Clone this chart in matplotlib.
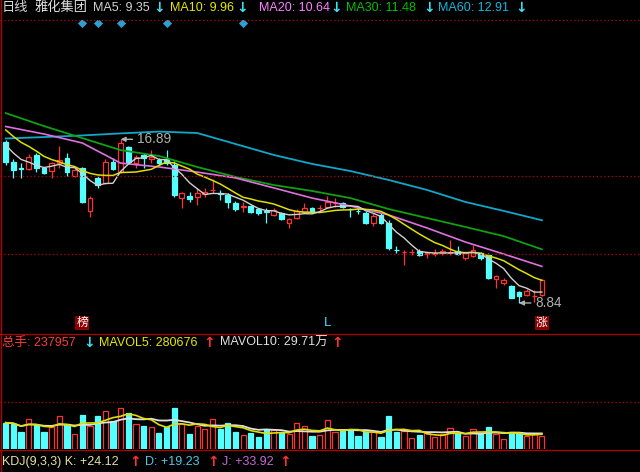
import numpy as np
import pandas as pd
import matplotlib
matplotlib.use('Agg')
import matplotlib.pyplot as plt
from matplotlib.lines import Line2D
from matplotlib.transforms import blended_transform_factory

plt.rcParams['font.family'] = ['Liberation Sans', 'Noto Sans CJK SC', 'DejaVu Sans']

# daily candles, oldest first
opens = [
    16.74, 15.79, 15.49, 15.43, 16.12, 15.46, 15.33, 15.74, 15.96, 15.10,
    15.46, 13.36, 14.97, 14.76, 15.79, 15.27, 16.53, 15.71, 16.12, 15.94,
    15.87, 15.91, 15.63, 13.99, 14.10, 14.07, 14.20, 14.38, 14.25, 14.15,
    13.77, 13.57, 13.62, 13.45, 13.34, 13.17, 13.25, 12.76, 13.00, 13.33,
    13.50, 13.49, 13.58, 13.77, 13.74, 13.45, 13.37, 13.29, 12.76, 13.17,
    12.79, 11.46, 11.35, 11.34, 11.41, 11.27, 11.27, 11.28, 11.32, 11.39,
    11.04, 11.15, 11.31, 11.20, 10.02, 9.81, 9.67, 9.39, 9.23, 9.17, 9.23,
]
closes = [
    15.76, 15.38, 15.42, 16.03, 15.46, 15.22, 15.71, 15.87, 15.30, 15.38,
    13.79, 13.99, 14.64, 15.79, 15.43, 16.69, 15.79, 16.03, 15.96, 16.01,
    15.71, 15.71, 14.15, 14.26, 13.94, 14.23, 14.31, 14.40, 14.22, 13.82,
    13.45, 13.59, 13.33, 13.25, 13.31, 13.39, 12.96, 12.96, 13.36, 13.50,
    13.33, 13.51, 13.82, 13.78, 13.55, 13.44, 13.35, 12.79, 13.12, 12.76,
    11.53, 11.44, 11.36, 11.35, 11.20, 11.29, 11.29, 11.39, 11.34, 11.23,
    11.28, 11.45, 11.04, 10.05, 10.17, 9.97, 9.10, 9.18, 9.44, 9.19, 9.97,
]
highs = [
    16.86, 15.91, 15.71, 16.15, 16.20, 15.54, 15.79, 16.56, 16.20, 15.46,
    15.54, 14.12, 15.13, 15.91, 15.96, 16.89, 16.56, 16.12, 16.20, 16.36,
    15.96, 16.36, 15.84, 14.31, 14.31, 14.48, 14.48, 14.92, 14.40, 14.23,
    13.86, 13.82, 13.66, 13.50, 13.50, 13.51, 13.33, 13.00, 13.45, 13.74,
    13.58, 13.66, 14.10, 13.99, 13.82, 13.50, 13.50, 13.37, 13.28, 13.25,
    12.92, 11.64, 11.45, 11.49, 11.49, 11.36, 11.49, 11.49, 11.94, 11.64,
    11.36, 11.69, 11.36, 11.28, 10.22, 10.05, 9.72, 9.44, 9.51, 9.48, 10.02,
]
lows = [
    15.63, 14.97, 14.97, 15.38, 15.30, 15.17, 14.97, 15.46, 15.09, 15.05,
    13.76, 13.08, 14.48, 14.69, 15.38, 15.22, 15.71, 15.46, 15.46, 15.71,
    15.63, 15.63, 14.07, 13.50, 13.82, 13.66, 14.07, 14.23, 13.91, 13.50,
    13.38, 13.33, 13.25, 13.17, 12.76, 13.12, 12.92, 12.54, 12.96, 13.25,
    13.28, 13.33, 13.50, 13.58, 13.50, 13.06, 13.20, 12.71, 12.64, 12.71,
    11.45, 11.31, 10.72, 11.20, 11.15, 11.04, 11.15, 11.20, 11.20, 11.20,
    10.95, 11.12, 10.95, 10.01, 9.56, 9.72, 9.07, 8.84, 9.18, 8.90, 9.18,
]
volumes = [
    476000, 453000, 315000, 537000, 430000, 315000, 405000, 596000, 453000, 274000,
    614000, 417000, 596000, 691000, 512000, 734000, 644000, 453000, 417000, 394000,
    297000, 405000, 734000, 453000, 269000, 417000, 358000, 537000, 363000, 465000,
    304000, 256000, 286000, 226000, 345000, 345000, 297000, 274000, 465000, 417000,
    238000, 256000, 524000, 315000, 333000, 345000, 238000, 315000, 315000, 226000,
    596000, 315000, 333000, 197000, 256000, 286000, 226000, 274000, 376000, 286000,
    238000, 358000, 286000, 394000, 274000, 179000, 315000, 286000, 238000, 274000, 237957,
]
# closes before the window, needed for MA5 / MA10 at the left edge
prior_closes = [18.6, 18.3, 18.0, 17.8, 17.8, 17.3, 17.0, 16.7, 16.25]

# long averages every 5 days
ma_idx = list(range(0, 71, 5))
ma20 = [17.52, 17.15, 16.71, 15.72, 15.53, 15.28, 14.99, 14.50, 14.00, 13.61, 13.17, 12.53, 11.84, 11.25, 10.64]
ma30 = [18.18, 17.54, 16.95, 16.36, 16.07, 15.53, 15.04, 14.64, 14.35, 14.00, 13.46, 13.02, 12.58, 12.13, 11.48]
ma60 = [16.93, 17.00, 17.08, 17.18, 17.27, 17.20, 16.66, 16.12, 15.68, 15.33, 14.89, 14.40, 13.81, 13.37, 12.91]

diamond_days = [10, 12, 15, 21, 31]
high_day, low_day = 15, 67

RED = '#ff3232'
CYAN = '#54ffff'
W, H = 640, 472

fig = plt.figure(figsize=(6.4, 4.72), dpi=100, facecolor='black')


def fx(px):
    return px / W


def fy(py):
    return 1 - py / H


def ftext(px, py, s, color, size=9.0):
    fig.text(fx(px), fy(py), s, color=color, fontsize=size, ha='left', va='center')


def arrow(px, py, s, color):
    fig.text(fx(px), fy(py), s, color=color, fontsize=10, ha='left', va='center',
             family=['DejaVu Sans'], fontweight='bold')


def hline(py, color, style='-', x0=0, x1=W):
    fig.add_artist(Line2D([fx(x0), fx(x1)], [fy(py), fy(py)], color=color, lw=0.9, ls=style))


# ---- price panel
ax = fig.add_axes([0, fy(332), 1, 312 / H])
ax.set_axis_off()
ax.set_xlim(-0.744, 82.81)
ax.set_ylim(7.413, 22.758)

x = np.arange(len(closes))
o, c, h, l = (np.array(v) for v in (opens, closes, highs, lows))
up = c >= o
lo = np.minimum(o, c)
hi = np.maximum(o, c)
hgt = np.maximum(hi - lo, 0.004)

ax.vlines(x[up], hi[up], h[up], color=RED, lw=0.9)
ax.vlines(x[up], l[up], lo[up], color=RED, lw=0.9)
ax.vlines(x[~up], l[~up], h[~up], color=CYAN, lw=0.9)
ax.bar(x[up], hgt[up], 0.62, bottom=lo[up], facecolor='black', edgecolor=RED, lw=0.9)
ax.bar(x[~up], hgt[~up], 0.62, bottom=lo[~up], facecolor=CYAN, edgecolor=CYAN, lw=0.9)

all_c = pd.Series(prior_closes + closes)
ma5 = all_c.rolling(5).mean().iloc[len(prior_closes):].values
ma10 = all_c.rolling(10).mean().iloc[len(prior_closes):].values

ax.plot(ma_idx, ma60, color='#10a8c8', lw=1.3)
ax.plot(ma_idx, ma30, color='#10a010', lw=1.3)
ax.plot(ma_idx, ma20, color='#e070e0', lw=1.2)
ax.plot(x, ma10, color='#e0e000', lw=1.1)
ax.plot(x, ma5, color='#d0d0d0', lw=1.0)

for day, val in ((high_day, highs[high_day]), (low_day, lows[low_day])):
    ax.annotate(f'{val:.2f}', xy=(day, val), xytext=(day + 2.1, val),
                color='#b0b0b0', fontsize=9.8, va='center', ha='left',
                arrowprops=dict(arrowstyle='-|>', color='#b0b0b0', lw=1, shrinkA=1, shrinkB=0, mutation_scale=7))

tr = blended_transform_factory(ax.transData, ax.transAxes)
ax.scatter(diamond_days, [0.989] * len(diamond_days), transform=tr, marker='D', s=22, color='#2d9fd0', lw=0)
ax.text(10, 0.028, '榜', transform=tr, color='white', fontsize=8.5, ha='center', va='center',
        bbox=dict(boxstyle='square,pad=0.1', facecolor='#8b0000', edgecolor='none'))
ax.text(70, 0.028, '涨', transform=tr, color='white', fontsize=8.5, ha='center', va='center',
        bbox=dict(boxstyle='square,pad=0.1', facecolor='#8b0000', edgecolor='none'))
ax.text(42, 0.028, 'L', transform=tr, color='#40e0ff', fontsize=9.5, ha='center', va='center')

# ---- volume panel
av = fig.add_axes([0, fy(449.3), 1, 115.3 / H])
av.set_axis_off()
av.set_xlim(-0.744, 82.81)
av.set_ylim(0, 115.3 * 17890)
v = np.array(volumes)
av.bar(x[up], v[up], 0.68, facecolor='black', edgecolor=RED, lw=0.9)
av.bar(x[~up], v[~up], 0.68, facecolor=CYAN, edgecolor=CYAN, lw=0.9)
vs = pd.Series(volumes)
av.plot(x, vs.rolling(10, min_periods=1).mean(), color='#e0e0e0', lw=1.3)
av.plot(x, vs.rolling(5, min_periods=1).mean(), color='#e0e000', lw=1.2)

# ---- frame lines
hline(20, '#c00000', (0, (1, 2)))
hline(176, '#c00000', (0, (1, 2)))
hline(254, '#c00000', (0, (1, 2)))
hline(402, '#c00000', (0, (1, 2)))
hline(333.5, '#b00000')
hline(449.5, '#b00000')
fig.add_artist(Line2D([fx(1), fx(1)], [fy(0), fy(472)], color='#b00000', lw=1))

# ---- header texts
ftext(2, 8, '日线', '#d8d8d8', 9.5)
ftext(35, 8, '雅化集团', '#e0e0e0', 9.5)
ftext(93, 8, 'MA5: 9.35', '#d0d0d0')
arrow(153, 8, '↓', '#40e0f0')
ftext(170, 8, 'MA10: 9.96', '#e6e600')
arrow(236, 8, '↓', '#40e0f0')
ftext(259, 8, 'MA20: 10.64', '#ff80ff')
arrow(330, 8, '↓', '#40e0f0')
ftext(346, 8, 'MA30: 11.48', '#00c000')
arrow(423, 8, '↓', '#40e0f0')
ftext(438, 8, 'MA60: 12.91', '#10b8e0')
arrow(515, 8, '↓', '#40e0f0')

ftext(2, 343, '总手: 237957', '#ff3c3c')
arrow(83, 343, '↓', '#40e0f0')
ftext(99, 343, 'MAVOL5: 280676', '#e6e600')
arrow(203, 343, '↑', '#ff3232')
ftext(220, 343, 'MAVOL10: 29.71万', '#e0e0e0')
arrow(331, 343, '↑', '#ff3232')

ftext(2, 462, 'KDJ(9,3,3) K: +24.12', '#e6e0a0')
arrow(129, 462, '↑', '#ff3232')
ftext(145, 462, 'D: +19.23', '#50c8e8')
arrow(207, 462, '↑', '#ff3232')
ftext(222, 462, 'J: +33.92', '#c868d8')
arrow(279, 462, '↑', '#ff3232')

fig.savefig('out.png', dpi=100, facecolor='black')
